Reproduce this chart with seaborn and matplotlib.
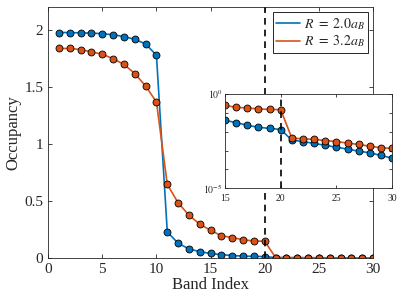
import numpy as np
import pandas as pd
import seaborn as sns
import matplotlib.pyplot as plt
from matplotlib.lines import Line2D

# band occupancy for two radii
band = list(range(1, 31))
occ_r20 = [1.98, 1.98, 1.977, 1.975, 1.97, 1.96, 1.945, 1.92, 1.88, 1.78,
           0.229, 0.13, 0.08, 0.056, 0.04, 0.03, 0.022, 0.017, 0.015, 0.013,
           3.6e-3, 3.0e-3, 2.4e-3, 1.9e-3, 1.5e-3, 1.2e-3, 9.3e-4, 7.6e-4, 5.5e-4, 4.0e-4]
occ_r32 = [1.84, 1.84, 1.83, 1.81, 1.79, 1.75, 1.70, 1.62, 1.51, 1.37,
           0.647, 0.485, 0.376, 0.297, 0.244, 0.195, 0.18, 0.16, 0.15, 0.147,
           4.6e-3, 4.2e-3, 3.9e-3, 3.4e-3, 3.0e-3, 2.5e-3, 2.1e-3, 1.7e-3, 1.4e-3, 1.3e-3]
labels = [r'$R\ =\ 2.0a_B$', r'$R\ =\ 3.2a_B$']
colors = ['#0072BD', '#D95319']
cutoff = 20

sns.set_style('ticks')
plt.rcParams['font.family'] = ['Liberation Serif', 'DejaVu Serif']
plt.rcParams['mathtext.fontset'] = 'stix'
plt.rcParams['axes.edgecolor'] = '#262626'
plt.rcParams['axes.linewidth'] = 0.6

df = pd.DataFrame({'Band': band * 2,
                   'Occupancy': occ_r20 + occ_r32,
                   'R': [labels[0]] * 30 + [labels[1]] * 30})

fig = plt.figure(figsize=(4.15, 2.99), dpi=100)
ax = fig.add_axes([0.116, 0.137, 0.783, 0.838])


def draw(a, data, ms):
    for lab, col in zip(labels, colors):
        sub = data[data['R'] == lab]
        sns.lineplot(data=sub, x='Band', y='Occupancy', ax=a, color=col,
                     marker='o', markersize=ms, markeredgecolor='k',
                     markeredgewidth=0.6, linewidth=1.2, legend=False)


draw(ax, df, 5)
ax.axvline(cutoff, color='k', linestyle='--', linewidth=1.2, dashes=(4, 3))
ax.set_xlim(0, 30)
ax.set_ylim(0, 2.2)
ax.set_xticks(range(0, 31, 5))
ax.set_yticks([0, 0.5, 1, 1.5, 2])
ax.set_yticklabels(['0', '0.5', '1', '1.5', '2'])
ax.tick_params(direction='in', top=True, right=True, labelsize=11, length=3,
               width=0.6, color='#262626')
ax.set_xlabel('Band Index', fontsize=12, labelpad=1)
ax.set_ylabel('Occupancy', fontsize=12, labelpad=2)

handles = [Line2D([0], [0], color=c, linewidth=1.2) for c in colors]
leg = ax.legend(handles, labels, loc='upper right', fontsize=10, fancybox=False,
                edgecolor='#262626', framealpha=1, borderpad=0.25, handlelength=1.7,
                handletextpad=0.3, labelspacing=0.15, borderaxespad=0.35)
leg.get_frame().set_linewidth(0.7)

# inset: log scale tail
ins = fig.add_axes([0.542, 0.370, 0.403, 0.316])
ins.set_facecolor('white')
draw(ins, df[df['Band'] >= 15], 5)
ins.axvline(cutoff, color='k', linestyle='--', linewidth=1.2, dashes=(4, 3))
ins.set_yscale('log')
ins.set_xlim(15, 30)
ins.set_ylim(1e-5, 1)
ins.set_xticks([15, 20, 25, 30])
ins.set_yticks([1e-5, 1e-4, 1e-3, 1e-2, 1e-1, 1])
ins.set_yticklabels([r'$10^{-5}$', '', '', '', '', r'$10^{0}$'])
ins.yaxis.set_minor_locator(plt.NullLocator())
ins.tick_params(direction='in', top=True, right=True, labelsize=7, length=2.5,
                width=0.6, color='#262626', pad=1.5)
ins.tick_params(axis='x', pad=4)
ins.set_xlabel('')
ins.set_ylabel('')

fig.savefig('out.png', dpi=100)
